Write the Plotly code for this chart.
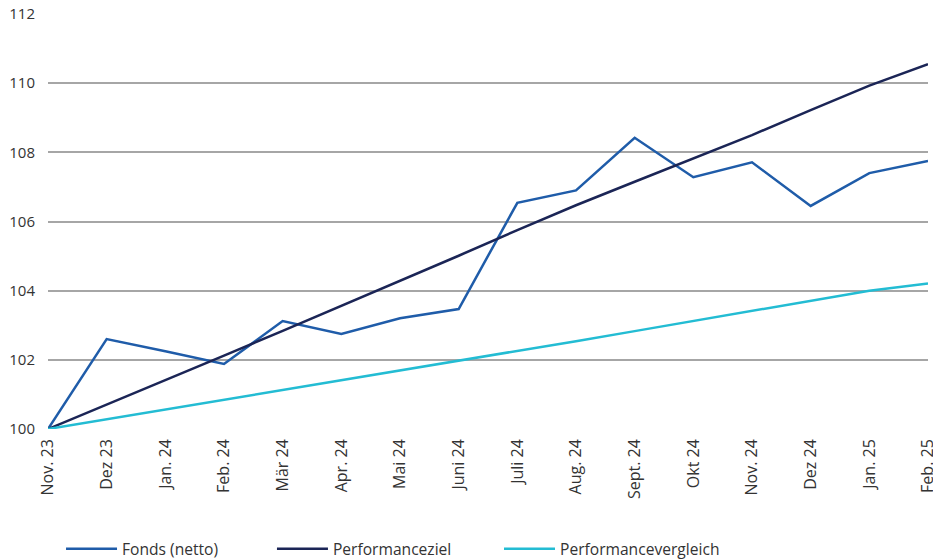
import plotly.graph_objects as go

months = ["Nov. 23", "Dez 23", "Jan. 24", "Feb. 24", "Mär 24", "Apr. 24", "Mai 24", "Juni 24",
          "Juli 24", "Aug. 24", "Sept. 24", "Okt 24", "Nov. 24", "Dez 24", "Jan. 25", "Feb. 25"]
fonds = [100.0, 102.6, 102.25, 101.88, 103.12, 102.75, 103.2, 103.47,
         106.54, 106.9, 108.42, 107.28, 107.71, 106.45, 107.4, 107.75]
ziel = [100.0, 100.70, 101.41, 102.12, 102.84, 103.56, 104.28, 105.01,
        105.75, 106.47, 107.15, 107.83, 108.50, 109.22, 109.93, 110.55]
vergleich = [100.0, 100.28, 100.56, 100.84, 101.12, 101.40, 101.69, 101.97,
             102.26, 102.54, 102.83, 103.12, 103.41, 103.70, 104.00, 104.21]
y_ticks = [100, 102, 104, 106, 108, 110, 112]

TXT = "#333333"

fig = go.Figure()
fig.add_trace(go.Scatter(x=months, y=fonds, mode="lines", name="Fonds (netto)",
                         line=dict(color="#1f5ca9", width=2.5), legend="legend"))
fig.add_trace(go.Scatter(x=months, y=ziel, mode="lines", name="Performanceziel",
                         line=dict(color="#1b2556", width=2.5), legend="legend2"))
fig.add_trace(go.Scatter(x=months, y=vergleich, mode="lines", name="Performancevergleich",
                         line=dict(color="#23bcd3", width=2.5), legend="legend3"))

leg_common = dict(orientation="h", xanchor="left", yref="container", y=0.0196,
                  yanchor="middle", itemwidth=51,
                  font=dict(size=15.6, color=TXT), bgcolor="rgba(0,0,0,0)")

fig.update_layout(
    width=933, height=560,
    margin=dict(l=48, r=5, t=14, b=131),
    paper_bgcolor="white", plot_bgcolor="white",
    font=dict(family="Open Sans", size=15, color=TXT),
    xaxis=dict(type="category", range=[0, 15], showgrid=False, showline=False,
               ticks="", tickangle=-90, ticklabelstandoff=6,
               tickfont=dict(size=16, color=TXT),
               zeroline=False, automargin=False),
    yaxis=dict(range=[100, 112], tickvals=y_ticks, showgrid=True,
               gridcolor="#a6a6a6", gridwidth=1.5, zeroline=False, showline=False,
               ticks="", ticklabelstandoff=12, tickfont=dict(size=15, color=TXT),
               automargin=False),
    legend=dict(x=0.0148, **leg_common),
    legend2=dict(x=0.2545, **leg_common),
    legend3=dict(x=0.5125, **leg_common),
    showlegend=True,
)

fig.write_html("out.html", config={"displayModeBar": False},
               post_script="document.body.style.margin='0';document.body.style.overflow='hidden';")
